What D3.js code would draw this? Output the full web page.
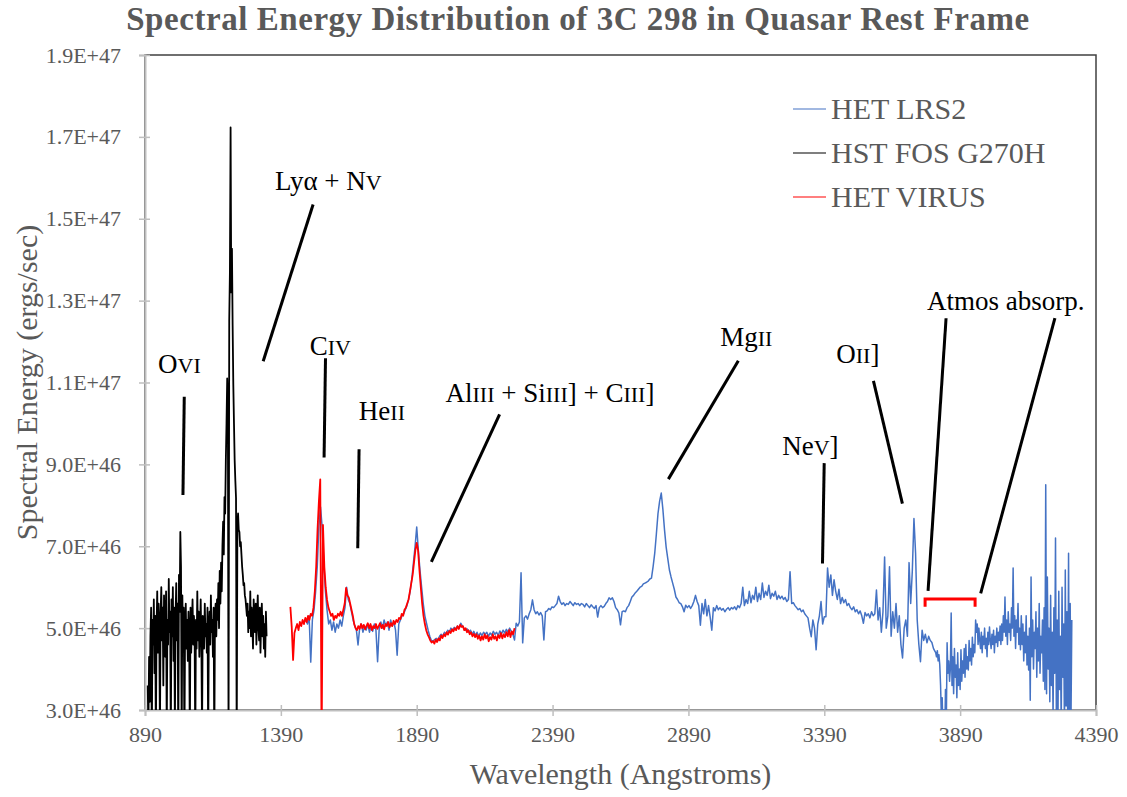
<!DOCTYPE html>
<html><head><meta charset="utf-8">
<script src="https://cdn.jsdelivr.net/npm/d3@7"></script>
<style>
body{margin:0;background:#fff}
svg{display:block}
text{font-family:"Liberation Serif","Times New Roman",serif}
</style>
</head><body>
<svg id="chart" width="1127" height="797"></svg>
<script>
// ---------------- data ----------------
const chartTitle = "Spectral Energy Distribution of 3C 298 in Quasar Rest Frame";
const xTitle = "Wavelength (Angstroms)";
const yTitle = "Spectral Energy (ergs/sec)";
const xTicks = [890, 1390, 1890, 2390, 2890, 3390, 3890, 4390];
const yTicks = [3.0e46, 5.0e46, 7.0e46, 9.0e46, 1.1e47, 1.3e47, 1.5e47, 1.7e47, 1.9e47];
const seriesNames = ["HET LRS2", "HST FOS G270H", "HET VIRUS"];
const seriesColors = ["#4472C4", "#000000", "#FF0000"];
const fluxUnit = 1e46;

// HST FOS G270H (wavelength grid start / step in Angstrom, flux in 1E46 erg/s)
const fosStart = 900, fosStep = 2.5;
const fosFlux = [
 3.6,2.5,4.3,3.2,
 4.8,5.5,2.0,5.2,4.6,5.7,3.9,5.3,2.2,
 5.0,5.9,4.4,5.6,4.9,2.4,5.4,6.0,
 4.7,5.5,3.6,5.8,5.1,4.3,5.9,2.3,5.2,4.6,
 6.2,4.9,5.4,2.1,5.7,4.8,6.0,4.2,5.5,2.5,
 5.3,6.1,4.7,5.6,2.0,6.3,5.4,7.35,6.5,2.2,5.8,4.6,5.5,2.0,5.0,
 5.6,4.5,5.2,4.2,5.4,4.8,2.3,5.5,4.4,5.1,5.7,4.6,5.3,4.9,2.1,
 5.2,4.5,5.9,4.7,5.4,4.3,5.0,5.7,4.6,2.4,5.3,5.0,4.5,5.6,4.8,
 5.1,4.4,5.5,2.2,5.0,5.4,4.6,5.8,4.9,5.2,4.3,5.5,2.0,5.3,5.6,
 4.8,5.7,5.2,6.1,5.0,6.4,5.6,6.6,5.9,7.0,
 7.6,6.8,8.2,7.8,9.1,10.0,11.1,10.5,2.0,12.5,13.7,17.23,13.2,14.27,12.4,10.95,10.0,9.1,8.6,8.18,
 2.0,7.5,7.8,7.4,7.35,7.0,7.1,6.8,6.5,6.3,6.05,6.1,5.8,5.7,5.5,
 5.3,5.6,4.9,5.4,5.0,5.9,4.8,5.5,5.1,4.5,5.7,5.2,4.9,5.6,4.6,
 5.3,5.8,5.0,4.7,5.5,4.4,5.2,5.6,4.8,5.3,4.5,5.1,4.3,5.4,4.8
];

// HET VIRUS
const virusStart = 1425, virusStep = 5;
const virusFlux = [
 5.52,5.03,4.22,4.88,5.0,5.1,4.95,5.15,5.05,5.2,
 5.1,5.25,5.15,5.3,5.2,5.35,5.3,5.5,5.9,6.5,
 7.4,8.1,8.63,2.0,7.52,6.5,6.0,5.69,5.5,5.4,
 5.3,5.35,5.2,5.3,5.25,5.35,5.3,5.4,5.3,5.45,
 5.6,5.98,5.8,5.75,5.6,5.45,5.3,5.1,5.0,4.95,
 5.05,4.98,5.1,5.0,5.08,4.97,5.05,5.12,5.0,5.1,
 4.95,5.05,5.0,5.1,4.98,5.05,5.12,5.0,5.08,4.97,
 5.1,5.05,5.15,5.02,5.12,5.05,5.18,5.1,5.2,5.15,
 5.25,5.22,5.35,5.3,5.45,5.5,5.6,5.7,5.9,6.1,
 6.3,6.6,6.9,7.08,6.9,6.42,6.0,5.6,5.3,5.1,
 4.95,4.85,4.78,4.7,4.65,4.68,4.62,4.72,4.66,4.75,
 4.7,4.82,4.76,4.85,4.8,4.9,4.84,4.93,4.88,4.97,
 4.92,5.0,4.95,5.05,4.98,5.08,5.03,5.05,4.95,5.0,
 4.9,4.95,4.85,4.9,4.8,4.86,4.78,4.85,4.74,4.82,
 4.7,4.8,4.72,4.85,4.75,4.82,4.68,4.78,4.72,4.85,
 4.74,4.8,4.7,4.83,4.76,4.88,4.75,4.85,4.78,4.9,
 4.8,4.95,4.78,4.92,4.85,5.0
];

// HET LRS2, part A (1482-3792 A, 6 A grid) and part B (3800-4301 A, 3 A grid)
const lrs2StartA = 1482, lrs2StepA = 6;
const lrs2FluxA = [
 5.2,5.1,5.3,4.17,5.2,5.44,5.9,6.5,7.5,7.96,
 7.47,6.6,5.9,5.44,5.1,5.2,4.95,5.15,4.9,5.1,
 5.0,5.2,5.05,5.3,5.5,6.0,5.7,5.6,5.4,5.2,
 5.05,4.95,4.59,5.0,5.1,4.9,5.05,4.95,5.1,4.9,
 5.05,4.92,5.1,4.95,4.18,5.0,5.15,5.0,5.2,5.05,
 5.15,4.95,5.2,5.05,5.15,4.95,4.34,5.1,5.2,5.3,
 5.35,5.45,5.55,5.7,5.9,6.2,6.6,7.0,7.47,6.9,
 6.42,6.0,5.6,5.3,5.12,4.95,4.8,4.7,4.68,4.72,
 4.75,4.7,4.8,4.85,4.8,4.9,4.85,4.95,4.9,5.0,
 4.95,5.02,4.98,5.05,5.0,5.12,5.05,5.0,4.95,4.98,
 4.9,4.95,4.85,4.92,4.82,4.9,4.8,4.88,4.82,4.9,
 4.85,4.9,4.8,4.88,4.83,4.92,4.85,4.9,4.82,4.93,
 4.86,4.95,4.88,4.97,4.9,5.0,4.92,4.85,4.71,5.12,
 5.05,5.15,6.35,4.64,5.25,5.3,5.22,5.35,5.45,5.69,
 5.45,5.35,5.4,5.32,5.38,5.3,4.71,5.4,5.42,5.48,
 5.45,5.52,5.5,5.55,5.6,5.78,5.65,5.58,5.62,5.55,
 5.6,5.58,5.65,5.6,5.55,5.62,5.58,5.6,5.55,5.6,
 5.58,5.52,5.6,5.55,5.5,5.57,5.52,5.48,5.55,5.27,
 5.5,5.55,5.5,5.53,5.6,5.65,5.74,5.7,5.74,5.65,
 5.5,5.45,5.37,5.08,5.4,5.42,5.4,5.5,5.55,5.65,
 5.76,5.8,5.86,5.9,5.95,6.0,6.02,6.08,6.1,6.12,
 6.15,6.2,6.22,6.5,6.83,7.3,7.8,8.1,8.3,7.9,
 7.4,6.98,6.7,6.42,6.25,6.1,5.95,5.76,5.7,5.62,
 5.6,5.52,5.4,5.56,5.5,5.55,5.48,5.55,5.65,5.8,
 5.65,5.55,5.07,5.6,5.35,5.7,5.3,5.55,5.27,4.95,
 5.5,5.42,5.55,5.45,5.5,5.44,5.48,5.4,5.46,5.5,
 5.44,5.5,5.47,5.52,5.45,5.55,5.5,5.6,6.0,5.55,
 5.7,5.6,5.9,5.62,5.8,5.7,6.0,5.65,5.85,5.7,
 6.1,5.75,5.9,5.8,6.05,5.72,5.85,5.78,5.9,5.7,
 5.8,5.72,5.78,5.7,5.75,5.65,5.7,6.38,5.6,5.62,
 5.55,5.5,5.45,5.48,5.4,5.44,5.35,5.3,5.25,5.0,
 4.79,5.2,5.0,4.47,5.1,5.3,5.65,5.1,5.28,5.28,
 6.47,6.0,6.3,5.8,6.18,5.9,5.7,5.95,5.6,5.75,
 5.62,5.7,5.55,5.6,5.5,5.45,5.52,5.4,5.45,5.35,
 5.42,5.3,5.12,5.38,5.3,5.35,5.25,5.4,5.3,5.35,
 5.93,5.2,5.5,4.9,5.4,6.74,5.0,5.3,6.5,4.8,
 5.4,5.0,5.6,4.9,5.3,4.6,4.27,5.0,5.2,4.8,
 6.6,5.6,6.4,7.68,6.83,5.2,4.6,4.18,4.95,4.7,
 4.85,4.64,4.8,4.7,4.65,4.5
];
const lrs2StartB = 3800, lrs2StepB = 3;
const lrs2FluxB = [
 4.4,4.3,4.45,4.2,4.35,4.1,
 3.6,2.8,3.3,2.4,3.0,2.2,3.5,2.6,
 4.64,3.9,4.2,3.7,4.0,5.37,
 3.6,4.3,3.4,4.5,3.8,4.1,3.3,4.4,3.6,4.0,3.5,4.47,3.7,4.2,3.9,4.5,
 3.8,4.6,4.0,4.3,3.98,4.7,4.2,4.5,4.1,4.78,4.3,4.6,4.4,
 5.2,4.9,5.1,4.6,5.0,4.7,
 4.5,4.9,4.4,4.8,4.6,5.0,4.5,4.75,4.3,4.9,4.6,5.03,4.7,4.5,4.85,4.6,4.95,4.4,4.8,4.65,5.0,4.55,4.9,4.7,5.05,4.6,
 5.1,4.7,5.3,4.9,5.76,4.8,5.2,4.6,5.4,4.9,5.1,4.7,5.5,5.0,6.47,4.8,5.3,4.5,5.2,4.9,5.6,4.6,5.0,4.47,5.3,
 4.6,5.1,4.2,4.9,4.4,5.3,4.1,4.8,3.98,5.0,3.24,6.25,4.3,5.2,4.0,4.9,4.5,5.4,3.8,5.0,4.2,5.6,3.9,4.8,4.4,5.2,3.7,
 5.5,3.5,8.5,3.4,6.25,4.0,5.0,3.2,5.8,3.6,4.9,2.8,5.5,3.9,7.2,3.0,5.2,2.6,5.9,3.5,4.8,2.5,6.0,3.8,5.1,2.4,6.42,3.1,5.4,2.7,6.83,2.5,5.6,2.8,5.2
];

// line annotations: label ("|" toggles smaller numerals), label anchor, pointer lines (wavelength, flux in 1E46)
const annoLabels = ["O|VI", "Ly\u03b1 + N|V", "C|IV", "He|II", "Al|III| + Si|III|] + C|III|]", "Mg|II", "Ne|V|]", "O|II|]", "Atmos absorp."];
const annoLabelWave = [938, 1368, 1496, 1677, 1996, 3007, 3235, 3434, 3768];
const annoLabelFlux = [11.23, 15.70, 11.68, 10.08, 10.52, 11.89, 9.23, 11.48, 12.77];
const pointerWave1 = [1034.5, 1508.7, 1554.3, 1677.8, 2195.0, 3073.6, 3389.7, 3570.9, 3838.2, 4238.8];
const pointerFlux1 = [10.65, 15.35, 11.59, 9.37, 10.22, 11.53, 9.03, 11.04, 12.57, 12.57];
const pointerWave2 = [1029.7, 1324.9, 1549.1, 1673.0, 1943.9, 2816.2, 3383.4, 3677.5, 3772.0, 3965.6];
const pointerFlux2 = [8.25, 11.52, 9.17, 6.95, 6.62, 8.64, 6.58, 8.04, 5.91, 5.85];
// atmospheric absorption bracket
const bracketWave = [3761, 3945];
const bracketFlux = [5.71, 5.52];

// ---------------- chart ----------------
const svg = d3.select("#chart");
const W = 1127, H = 797;
const plot = {left: 145, right: 1096, top: 55, bottom: 710};
const x = d3.scaleLinear().domain([890, 4390]).range([plot.left, plot.right]);
const y = d3.scaleLinear().domain([3.0e46, 1.9e47]).range([plot.bottom, plot.top]);

svg.append("rect").attr("width", W).attr("height", H).attr("fill", "#fff");

svg.append("defs").append("clipPath").attr("id", "clip")
  .append("rect").attr("x", plot.left).attr("y", plot.top)
  .attr("width", plot.right - plot.left).attr("height", plot.bottom - plot.top);

// plot-area border
svg.append("rect").attr("x", plot.left).attr("y", plot.top)
  .attr("width", plot.right - plot.left).attr("height", plot.bottom - plot.top)
  .attr("fill", "none").attr("stroke", "#404040").attr("stroke-width", 1.5);

// title
svg.append("text").attr("x", 578).attr("y", 30).attr("text-anchor", "middle")
  .attr("font-size", 33).attr("letter-spacing", 0.55).attr("font-weight", "bold")
  .attr("fill", "#595959").text(chartTitle);

// axes
const fmt = v => v.toExponential(1).toUpperCase();
const gx = svg.append("g").attr("transform", `translate(0,${plot.bottom})`)
  .call(d3.axisBottom(x).tickValues(xTicks).tickFormat(d3.format("d")).tickSize(6).tickPadding(10));
gx.selectAll(".tick line").attr("y1", -5).attr("y2", 6);
const gy = svg.append("g").attr("transform", `translate(${plot.left},0)`)
  .call(d3.axisLeft(y).tickValues(yTicks).tickFormat(fmt).tickSize(6).tickPadding(18));
gy.selectAll(".tick line").attr("x1", -6).attr("x2", 5);
[gx, gy].forEach(g => {
  g.select(".domain").attr("stroke", "#bfbfbf").attr("stroke-width", 2);
  g.selectAll(".tick line").attr("stroke", "#bfbfbf").attr("stroke-width", 1.5);
  g.selectAll(".tick text").attr("fill", "#595959").attr("font-size", 22)
    .attr("font-family", "Liberation Serif, Times New Roman, serif");
});

// axis titles
svg.append("text").attr("x", (plot.left + plot.right) / 2).attr("y", 784).attr("text-anchor", "middle")
  .attr("font-size", 30).attr("fill", "#595959").text(xTitle);
svg.append("text").attr("transform", `translate(37,${(plot.top + plot.bottom) / 2}) rotate(-90)`)
  .attr("text-anchor", "middle").attr("font-size", 30).attr("fill", "#595959").text(yTitle);

// series
function toPoints(start, step, flux) {
  return flux.map((f, i) => [start + i * step, f * fluxUnit]);
}
const line = d3.line().x(d => x(d[0])).y(d => y(d[1]));
const data = [
  {pts: toPoints(lrs2StartA, lrs2StepA, lrs2FluxA).concat(toPoints(lrs2StartB, lrs2StepB, lrs2FluxB)), color: seriesColors[0], w: 1.5},
  {pts: toPoints(virusStart, virusStep, virusFlux), color: seriesColors[2], w: 1.8},
  {pts: toPoints(fosStart, fosStep, fosFlux), color: seriesColors[1], w: 1.8}
];
const gData = svg.append("g").attr("clip-path", "url(#clip)");
data.forEach(s => {
  gData.append("path").datum(s.pts).attr("d", line).attr("fill", "none")
    .attr("stroke", s.color).attr("stroke-width", s.w).attr("stroke-linejoin", "round");
});

// annotations
const gA = svg.append("g");
pointerWave1.forEach((w, i) => {
  gA.append("line")
    .attr("x1", x(w)).attr("y1", y(pointerFlux1[i] * fluxUnit))
    .attr("x2", x(pointerWave2[i])).attr("y2", y(pointerFlux2[i] * fluxUnit))
    .attr("stroke", "#000").attr("stroke-width", 3);
});
annoLabels.forEach((lab, i) => {
  const t = gA.append("text").attr("x", x(annoLabelWave[i])).attr("y", y(annoLabelFlux[i] * fluxUnit))
    .attr("fill", "#000").attr("font-size", 27);
  lab.split("|").forEach((s, k) => t.append("tspan").attr("font-size", k % 2 ? 22 : 27).text(s));
});
// bracket
const bx0 = x(bracketWave[0]), bx1 = x(bracketWave[1]);
const by0 = y(bracketFlux[0] * fluxUnit), by1 = y(bracketFlux[1] * fluxUnit);
gA.append("path").attr("d", `M${bx0},${by1}L${bx0},${by0}L${bx1},${by0}L${bx1},${by1}`)
  .attr("fill", "none").attr("stroke", "#FF0000").attr("stroke-width", 3);

// legend
const lg = svg.append("g");
seriesNames.forEach((n, i) => {
  const cy = 109 + i * 44;
  lg.append("line").attr("x1", 793).attr("x2", 826).attr("y1", cy).attr("y2", cy)
    .attr("stroke", seriesColors[i]).attr("stroke-width", 1.2);
  lg.append("text").attr("x", 831).attr("y", cy + 10).attr("font-size", 30)
    .attr("fill", "#595959").text(n);
});
</script>
</body></html>
